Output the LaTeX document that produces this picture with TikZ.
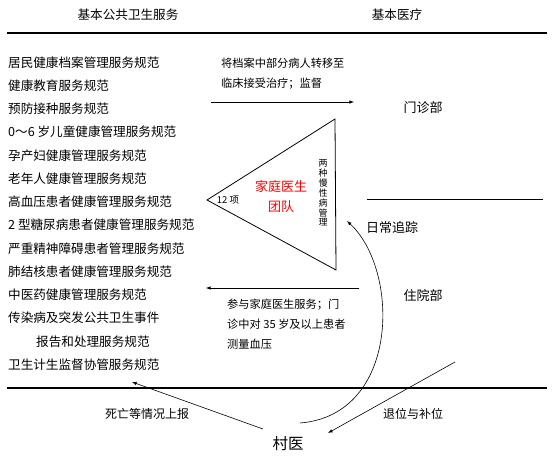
\documentclass[tikz,border=0pt]{standalone}
\usepackage{fontspec}
\setmainfont{Noto Sans CJK SC}
\usepackage{tikz}
\usepackage{xcolor}
\usetikzlibrary{arrows,positioning,calc}

\begin{document}
\begin{tikzpicture}[
    x=1pt, y=-1pt,
    item/.style={anchor=west, inner sep=0pt, font=\fontsize{12.6}{14}\selectfont},
    head/.style={inner sep=0pt, font=\fontsize{12.6}{14}\selectfont},
    place/.style={inner sep=0pt, font=\fontsize{13}{14}\selectfont},
    note/.style={anchor=north west, inner sep=0pt, align=left, font=\fontsize{11.2}{19.8}\selectfont},
    arrow/.style={->, semithick, >=latex},
    rule/.style={line width=1.4pt}
]
\useasboundingbox (0,0) rectangle (554,460);

% Headings
\node[head] (hpub) at (128,15) {基本公共卫生服务};
\node[head] (hmed) at (397,15) {基本医疗};
\coordinate (r1a) at (7,33);
\coordinate (r1b) at (547,33);
\draw[rule] (r1a) -- (r1b);

% Service list
\node[item] (l1) at (8,63) {居民健康档案管理服务规范};
\node[item] (l2) at (8,86) {健康教育服务规范};
\node[item] (l3) at (8,109) {预防接种服务规范};
\node[item] (l4) at (8,132) {0～6 岁儿童健康管理服务规范};
\node[item] (l5) at (8,155.5) {孕产妇健康管理服务规范};
\node[item] (l6) at (8,178.5) {老年人健康管理服务规范};
\node[item] (l7) at (8,202) {高血压患者健康管理服务规范};
\node[item] (l8) at (8,225) {2 型糖尿病患者健康管理服务规范};
\node[item] (l9) at (8,249) {严重精神障碍患者管理服务规范};
\node[item] (l10) at (8,272) {肺结核患者健康管理服务规范};
\node[item] (l11) at (8,295) {中医药健康管理服务规范};
\node[item] (l12) at (8,318) {传染病及突发公共卫生事件};
\node[item] (l13) at (36,342) {报告和处理服务规范};
\node[item] (l14) at (8,365) {卫生计生监督协管服务规范};

% Family doctor team
\coordinate (tl) at (207,200);
\coordinate (tt) at (335,119);
\coordinate (tb) at (336,270);
\draw[thick] (tl) -- (tt) -- (tb) -- cycle;
\node[inner sep=0pt, font=\fontsize{9.5}{11}\selectfont] (n12) at (228,200) {12 项};
\node[inner sep=0pt, align=center, text=red, font=\fontsize{13}{20}\selectfont] (team) at (281,197) {家庭医生\\团队};
\node[inner sep=0pt, align=center, font=\fontsize{9}{9.9}\selectfont] (chronic) at (323,193) {两\\种\\慢\\性\\病\\管\\理};

% Medical side
\node[place] (clinic) at (423,108) {门诊部};
\node[place] (ward) at (423,295) {住院部};
\coordinate (r2a) at (367,199);
\coordinate (r2b) at (543,199);
\draw[thick] (r2a) -- (r2b);

% Transfer arrow
\coordinate (ta) at (211,102);
\coordinate (tz) at (354,102);
\draw[arrow] (ta) -- (tz);
\node[note] (tnote) at (221,58) {将档案中部分病人转移至\\临床接受治疗；监督};

% Back arrow
\coordinate (ba) at (359,288);
\coordinate (bz) at (206,288);
\draw[arrow] (ba) -- (bz);
\node[note] (bnote) at (227,299) {参与家庭医生服务；门\\诊中对 35 岁及以上患者\\测量血压};

% Bottom rule
\coordinate (r3a) at (7,388);
\coordinate (r3b) at (547,388);
\draw[line width=1.1pt] (r3a) -- (r3b);

% Village doctor
\node[inner sep=1pt, font=\fontsize{15.5}{16}\selectfont] (vdoc) at (288,444) {村医};
\coordinate (vin) at (328,433);
\coordinate (vout) at (263,429);
\coordinate (vcur) at (300,423);

% Tracking curve
\coordinate (cz) at (347,221);
\draw[arrow] (vcur) .. controls (400,415) and (400,270) .. (cz);
\node[place, anchor=west] (track) at (366,228) {日常追踪};

% Substitution arrow
\coordinate (sa) at (455,362);
\draw[arrow] (sa) -- (vin);
\node[place, font=\fontsize{12}{14}\selectfont] (swap) at (413,414) {退位与补位};

% Report arrow
\coordinate (pz) at (132,382);
\draw[arrow] (vout) -- (pz);
\node[place, font=\fontsize{12}{14}\selectfont] (report) at (147,414) {死亡等情况上报};

\end{tikzpicture}
\end{document}
